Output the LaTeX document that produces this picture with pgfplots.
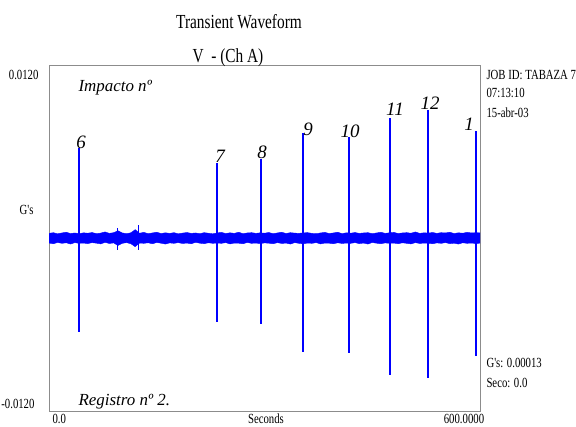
\documentclass[border=0pt]{standalone}
\usepackage{fontspec}
\setmainfont{Liberation Serif}
\newfontfamily\cond{Liberation Serif}[FakeStretch=0.77]
\usepackage{pgfplots}
\pgfplotsset{compat=1.18}
\usepackage{pgfplotstable}
\usepgfplotslibrary{fillbetween}

% noise envelope of the waveform (G's)
\pgfplotstableread{
t up lo
0 0.00032 -0.00035
6 0.00037 -0.00040
12 0.00029 -0.00031
18 0.00035 -0.00037
24 0.00040 -0.00033
30 0.00031 -0.00042
36 0.00035 -0.00032
42 0.00030 -0.00037
48 0.00036 -0.00035
54 0.00033 -0.00039
60 0.00038 -0.00032
66 0.00030 -0.00036
72 0.00034 -0.00041
78 0.00042 -0.00030
84 0.00032 -0.00038
90 0.00037 -0.00034
96 0.00050 -0.00052
102 0.00035 -0.00037
108 0.00030 -0.00032
114 0.00036 -0.00040
120 0.00058 -0.00060
126 0.00033 -0.00035
132 0.00039 -0.00037
138 0.00030 -0.00033
144 0.00035 -0.00040
150 0.00040 -0.00031
156 0.00031 -0.00036
162 0.00036 -0.00042
168 0.00032 -0.00034
174 0.00037 -0.00037
180 0.00029 -0.00032
186 0.00034 -0.00038
192 0.00038 -0.00035
198 0.00032 -0.00040
204 0.00035 -0.00030
210 0.00030 -0.00036
216 0.00037 -0.00039
222 0.00033 -0.00033
228 0.00029 -0.00037
234 0.00035 -0.00035
240 0.00039 -0.00037
246 0.00031 -0.00032
252 0.00036 -0.00041
258 0.00032 -0.00035
264 0.00040 -0.00036
270 0.00030 -0.00040
276 0.00035 -0.00031
282 0.00037 -0.00037
288 0.00032 -0.00035
294 0.00036 -0.00039
300 0.00033 -0.00034
306 0.00038 -0.00036
312 0.00030 -0.00040
318 0.00035 -0.00032
324 0.00040 -0.00038
330 0.00031 -0.00035
336 0.00037 -0.00042
342 0.00034 -0.00032
348 0.00032 -0.00037
354 0.00036 -0.00040
360 0.00037 -0.00035
366 0.00032 -0.00037
372 0.00030 -0.00032
378 0.00035 -0.00041
384 0.00039 -0.00035
390 0.00031 -0.00036
396 0.00035 -0.00040
402 0.00040 -0.00033
408 0.00030 -0.00038
414 0.00036 -0.00035
420 0.00033 -0.00037
426 0.00038 -0.00032
432 0.00032 -0.00039
438 0.00035 -0.00035
444 0.00037 -0.00042
450 0.00030 -0.00031
456 0.00035 -0.00036
462 0.00040 -0.00040
468 0.00032 -0.00034
474 0.00036 -0.00037
480 0.00039 -0.00035
486 0.00031 -0.00040
492 0.00035 -0.00033
498 0.00037 -0.00037
504 0.00033 -0.00041
510 0.00042 -0.00032
516 0.00032 -0.00038
522 0.00036 -0.00035
528 0.00034 -0.00036
534 0.00038 -0.00040
540 0.00032 -0.00034
546 0.00037 -0.00037
552 0.00035 -0.00032
558 0.00040 -0.00039
564 0.00031 -0.00036
570 0.00036 -0.00042
576 0.00033 -0.00033
582 0.00039 -0.00037
588 0.00035 -0.00035
594 0.00037 -0.00038
600 0.00036 -0.00036
}\noise

\begin{document}
\begin{tikzpicture}
\begin{axis}[
    at={(0,0)}, anchor=south west,
    scale only axis,
    width=431bp, height=346bp,
    xmin=0, xmax=600,
    ymin=-0.012, ymax=0.012,
    xtick=\empty, ytick=\empty,
    axis line style={draw=black!45, line width=0.8pt},
]
\addplot[name path=up, blue, line width=0.4pt] table[x=t, y=up] {\noise};
\addplot[name path=lo, blue, line width=0.4pt] table[x=t, y=lo] {\noise};
\addplot[blue] fill between[of=up and lo];
% impacts, positive peaks
\addplot[ycomb, blue, line width=1.6pt] coordinates {
    (41.8,0.00624) (233.5,0.00520) (294.8,0.00548) (353.8,0.00728)
    (417.8,0.00701) (475.0,0.00832) (527.9,0.00888) (594.7,0.00742)
};
% impacts, negative peaks
\addplot[ycomb, blue, line width=1.6pt] coordinates {
    (41.8,-0.00652) (233.5,-0.00583) (294.8,-0.00597) (353.8,-0.00791)
    (417.8,-0.00798) (475.0,-0.00950) (527.9,-0.00971) (594.7,-0.00818)
};
% small events
\addplot[ycomb, blue, line width=0.8pt] coordinates {
    (95.7,0.0007) (95.7,-0.0008) (124.0,0.0009) (124.0,-0.0008)
    (353.8,-0.0021) (527.9,0.0058)
};
\end{axis}

% titles
\node[anchor=base, font=\cond\fontsize{20}{22}\selectfont] at (190bp,382bp) {Transient Waveform};
\node[anchor=base, font=\cond\fontsize{20}{22}\selectfont] at (179bp,348bp) {V\ \ - (Ch A)};

% y labels
\begin{scope}[every node/.style={font=\cond\fontsize{14}{16}\selectfont}]
\node[anchor=base east] at (-7bp,331bp) {0.0120};
\node[anchor=base east] at (-12bp,196bp) {G's};
\node[anchor=base east] at (-11bp,3bp) {-0.0120};
% x labels
\node[anchor=base west] at (0bp,-12bp) {0.0};
\node[anchor=base] at (217bp,-12bp) {Seconds};
\node[anchor=base] at (415bp,-12bp) {600.0000};
% right side info
\node[anchor=base west] at (434bp,331bp) {JOB ID: TABAZA 7};
\node[anchor=base west] at (434bp,313bp) {07:13:10};
\node[anchor=base west] at (434bp,293bp) {15-abr-03};
\node[anchor=base west] at (434bp,43bp) {G's: 0.00013};
\node[anchor=base west] at (434bp,24bp) {Seco: 0.0};
\end{scope}

% inside labels
\node[anchor=base west, font=\itshape\fontsize{17}{19}\selectfont] at (26bp,319bp) {Impacto nº};
\node[anchor=base west, font=\itshape\fontsize{17}{19}\selectfont] at (26bp,6bp) {Registro nº 2.};

% impact numbers
\begin{scope}[every node/.style={anchor=base, inner sep=0pt, font=\itshape\fontsize{19}{21}\selectfont}]
\node at (32bp,262bp) {6};
\node at (171bp,248bp) {7};
\node at (213bp,252bp) {8};
\node at (259bp,275bp) {9};
\node at (301bp,273bp) {10};
\node at (346bp,295bp) {11};
\node at (381bp,301bp) {12};
\node at (420bp,280bp) {1};
\end{scope}
\pgfresetboundingbox
\path[use as bounding box] (-49bp,-16bp) rectangle (527bp,411bp);
\end{tikzpicture}
\end{document}
